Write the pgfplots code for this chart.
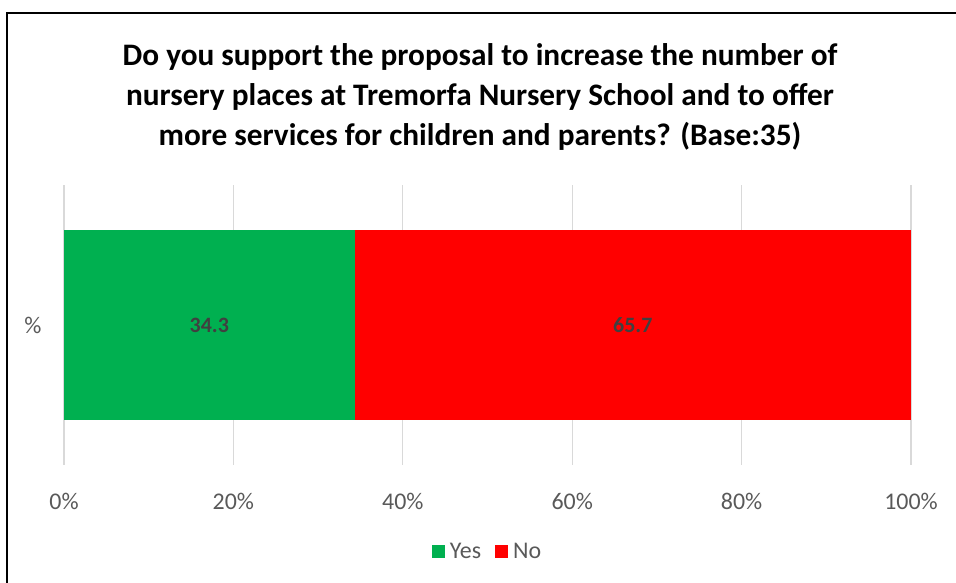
\documentclass[border=0pt]{standalone}
\usepackage{pgfplots}
\pgfplotsset{compat=1.18}
\usepackage{fontspec}
\setmainfont{Carlito}
\definecolor{yesgreen}{HTML}{00B050}
\definecolor{nored}{HTML}{FF0000}
\definecolor{gridgrey}{HTML}{D9D9D9}
\definecolor{ticktext}{HTML}{595959}
\definecolor{labeltext}{HTML}{404040}
\begin{document}
\begin{tikzpicture}[x=1bp,y=1bp]
\useasboundingbox (0,0) rectangle (956,583);
\clip (0,0) rectangle (956,583);
\draw[line width=2bp,black] (7,-20) rectangle (980,570);
\coordinate (axpos) at (64,118);
% title
\node[anchor=base,font=\fontsize{31.4}{37}\selectfont\bfseries] at (480,517) {Do you support the proposal to increase the number of};
\node[anchor=base,font=\fontsize{31.4}{37}\selectfont\bfseries] at (480,477) {nursery places at Tremorfa Nursery School and to offer};
\node[anchor=base,font=\fontsize{31.4}{37}\selectfont\bfseries] at (480,437) {more services for children and parents? (Base:35)};
\begin{axis}[
  at={(axpos)}, anchor=south west,
  scale only axis, width=847bp, height=280bp,
  xbar stacked, bar width=190bp,
  xmin=0, xmax=100, ymin=-0.5, ymax=0.5,
  xtick={0,20,40,60,80,100},
  xticklabels={0\%,20\%,40\%,60\%,80\%,100\%},
  ytick={0}, yticklabels={\%},
  xmajorgrids, major grid style={gridgrey, line width=1.3bp},
  axis line style={draw=none},
  major tick length=0pt,
  tick label style={font=\fontsize{24}{28}\selectfont, text=ticktext},
  xticklabel style={yshift=-25bp},
  yticklabel style={xshift=-19bp},
  /pgf/number format/assume math mode=true,
  legend style={at={(0.5,-0.31)}, anchor=center, draw=none, legend columns=2,
    font=\fontsize{24}{28}\selectfont, text=ticktext,
    /tikz/every odd column/.append style={column sep=3bp},
    /tikz/every even column/.append style={column sep=12bp}},
  legend image code/.code={\fill[#1] (0bp,-6.5bp) rectangle (13bp,6.5bp);},
  clip=false,
]
\addplot[fill=yesgreen, draw=none] coordinates {(34.3,0)};
\addplot[fill=nored, draw=none] coordinates {(65.7,0)};
\legend{Yes,No}
\coordinate (labA) at (axis cs:17.15,0);
\coordinate (labB) at (axis cs:67.15,0);
\end{axis}
\node[font=\fontsize{22}{26}\selectfont\bfseries, text=labeltext] at (labA) {34.3};
\node[font=\fontsize{22}{26}\selectfont\bfseries, text=labeltext] at (labB) {65.7};
\end{tikzpicture}
\end{document}
